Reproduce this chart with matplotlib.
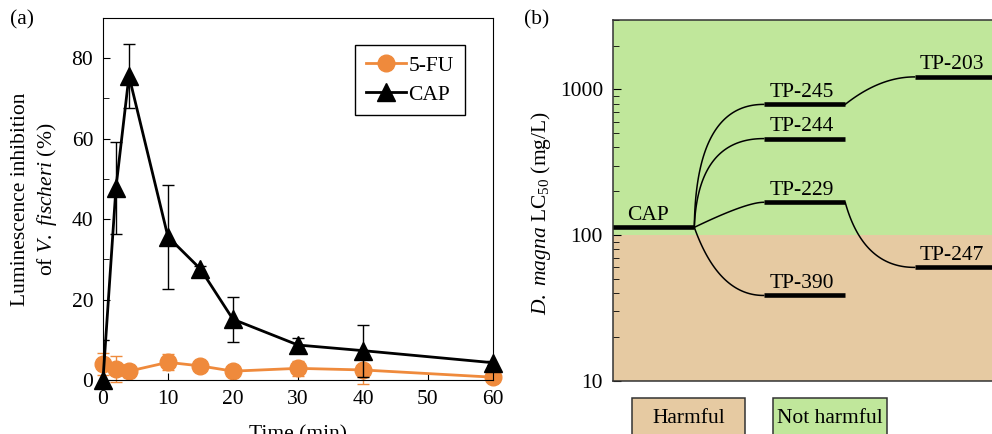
import numpy as np
import matplotlib
matplotlib.use("Agg")
import matplotlib.pyplot as plt
from matplotlib.patches import Rectangle

plt.rcParams["font.family"] = ["Liberation Serif", "DejaVu Serif"]
plt.rcParams["mathtext.fontset"] = "custom"
plt.rcParams["mathtext.rm"] = "Liberation Serif"
plt.rcParams["mathtext.it"] = "Liberation Serif:italic"
plt.rcParams["font.size"] = 15.5

# (a) luminescence inhibition over time
time_min = [0, 2, 4, 10, 15, 20, 30, 40, 60]
fu_mean = [4.0, 2.7, 2.2, 4.4, 3.5, 2.2, 2.9, 2.5, 0.7]
fu_err = [2.7, 3.2, 1.5, 2.0, 0.4, 0.3, 1.8, 3.5, 0.3]
cap_mean = [0.0, 47.8, 75.6, 35.6, 27.6, 15.1, 8.7, 7.3, 4.3]
cap_err = [10.0, 11.4, 8.0, 13.0, 0.8, 5.6, 1.8, 6.5, 0.5]

# (b) D. magna LC50 of CAP and its transformation products
tp_names = ["CAP", "TP-245", "TP-244", "TP-229", "TP-390", "TP-203", "TP-247"]
tp_lc50 = [113, 790, 460, 168, 38.5, 1220, 60]
tp_stage = [0, 1, 1, 1, 1, 2, 2]
tp_parent = [None, 0, 0, 0, 0, 1, 3]
harm_threshold = 100

ORANGE = "#EF8A3C"
GREEN = "#C0E79B"
TAN = "#E6CAA2"

fig = plt.figure(figsize=(9.92, 4.34), dpi=100)

# ---- panel (a)
ax1 = fig.add_axes([0.1038, 0.1244, 0.3931, 0.8341])
for mean, err, colour, mk, ms, lab, z, clip in [
        (fu_mean, fu_err, ORANGE, "o", 12, "5-FU", 2, False),
        (cap_mean, cap_err, "black", "^", 13, "CAP", 3, True)]:
    eb = ax1.errorbar(time_min, mean, yerr=err, fmt="none", ecolor=colour,
                      capsize=4, elinewidth=1, capthick=1, zorder=z)
    for art in eb.lines[1] + eb.lines[2]:
        art.set_clip_on(clip)
    ax1.plot(time_min, mean, color=colour, marker=mk, ms=ms, lw=2, label=lab,
             zorder=z, clip_on=False)
ax1.set_xlim(0, 60)
ax1.set_ylim(0, 90)
ax1.set_xticks(np.arange(0, 61, 10))
ax1.set_yticks(np.arange(0, 81, 20))
ax1.set_yticks(np.arange(10, 90, 20), minor=True)
ax1.tick_params(direction="in", length=5, pad=7)
ax1.tick_params(which="minor", direction="in", length=4)
ax1.set_ylabel("Luminescence inhibition\nof $V.\\ fischeri$ (%)", linespacing=1.3)
ax1.yaxis.set_label_coords(-0.112, 0.5)
fig.text(0.3, -0.013, "Time (min)", ha="center", va="baseline")
leg = ax1.legend(loc="upper right", bbox_to_anchor=(0.955, 0.955), fancybox=False,
                 edgecolor="black", handlelength=1.9, handletextpad=0.1,
                 borderpad=0.5, labelspacing=0.4, framealpha=1)
leg.get_frame().set_linewidth(1.0)
fig.text(0.010, 0.955, "(a)", va="center")

# ---- panel (b)
ax2 = fig.add_axes([0.6177, 0.1228, 0.3823, 0.8311])
ax2.set_yscale("log")
ax2.set_ylim(10, 3000)
ax2.set_xlim(0, 4.65)
ax2.axhspan(10, harm_threshold, color=TAN, lw=0, zorder=0)
ax2.axhspan(harm_threshold, 3000, color=GREEN, lw=0, zorder=0)

stage_gap = 1.85
seg_len = 1.0
# curvature of each connector (fraction of the run before it levels off)
bend = {1: 0.02, 2: 0.05, 3: 0.75, 4: 0.35, 5: 0.5, 6: 0.26}

for i, name in enumerate(tp_names):
    x0 = tp_stage[i] * stage_gap
    ax2.plot([x0, x0 + seg_len], [tp_lc50[i], tp_lc50[i]], color="black",
             lw=3.3, solid_capstyle="butt", zorder=3)
    off = 10 if i == 0 else 4
    ax2.annotate(name, (x0, tp_lc50[i]), xytext=(off, 5.5),
                 textcoords="offset points", va="baseline", ha="left", zorder=4)
    p = tp_parent[i]
    if p is None:
        continue
    xs = tp_stage[p] * stage_gap + seg_len
    xe = x0
    ls, le = np.log10(tp_lc50[p]), np.log10(tp_lc50[i])
    cx = xs + bend[i] * (xe - xs)
    t = np.linspace(0, 1, 80)
    bx = (1 - t) ** 2 * xs + 2 * (1 - t) * t * cx + t ** 2 * xe
    by = (1 - t) ** 2 * ls + 2 * (1 - t) * t * le + t ** 2 * le
    ax2.plot(bx, 10 ** by, color="black", lw=1.1, zorder=2)

ax2.set_xticks([])
ax2.set_yticks([10, 100, 1000])
ax2.set_yticklabels(["10", "100", "1000"])
ax2.tick_params(axis="y", which="major", direction="in", length=6, pad=7)
ax2.tick_params(axis="y", which="minor", direction="in", length=4, labelleft=False)
for side in ["left", "bottom", "top"]:
    ax2.spines[side].set_color("#333333")
    ax2.spines[side].set_linewidth(1.1)
ax2.spines["right"].set_visible(False)
ax2.set_ylabel("$D.\\ magna$ LC$_{50}$ (mg/L)")
ax2.yaxis.set_label_coords(-0.157, 0.465)
fig.text(0.528, 0.955, "(b)", va="center")

# category boxes below panel (b)
for x_left, x_right, colour, label in [(0.050, 0.349, TAN, "Harmful"),
                                        (0.4234, 0.7224, GREEN, "Not harmful")]:
    ax2.add_patch(Rectangle((x_left, -0.25), x_right - x_left, 0.2012,
                            transform=ax2.transAxes, clip_on=False,
                            facecolor=colour, edgecolor="#333333", lw=1.1))
    ax2.text((x_left + x_right) / 2, -0.1164, label, transform=ax2.transAxes,
             ha="center", va="baseline")

fig.savefig("out.png", dpi=100)
